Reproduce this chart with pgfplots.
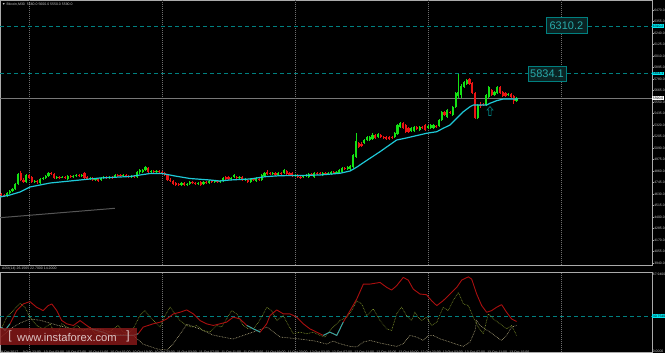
\documentclass[border=0pt]{standalone}
\usepackage{pgfplots}
\pgfplotsset{compat=1.18}
\usepackage{pgfplotstable}
\usepackage{fontspec}
\setmainfont{Liberation Sans}
\definecolor{cgreen}{RGB}{20,225,20}
\definecolor{cred}{RGB}{235,20,20}
\definecolor{cma}{RGB}{30,200,215}
\definecolor{lvl}{RGB}{0,128,128}
\definecolor{axgray}{RGB}{170,170,170}
\definecolor{lblgray}{RGB}{200,200,200}
\definecolor{sepgray}{RGB}{110,110,110}
\definecolor{adxred}{RGB}{170,15,15}
\definecolor{adxteal}{RGB}{32,178,170}
\definecolor{diolive}{RGB}{130,150,45}
\definecolor{diwheat}{RGB}{175,165,125}
\definecolor{cyanlab}{RGB}{0,230,240}
\definecolor{wmred}{RGB}{140,25,25}
\definecolor{wmtext}{RGB}{220,195,195}
\definecolor{boxtxt}{RGB}{40,170,170}
\definecolor{boxfill}{RGB}{10,35,35}
\definecolor{trend}{RGB}{85,85,85}
\definecolor{pline}{RGB}{120,120,120}
\pgfdeclareplotmark{uparrow}{%
\pgfpathmoveto{\pgfpoint{0pt}{4.5pt}}%
\pgfpathlineto{\pgfpoint{3pt}{1pt}}%
\pgfpathlineto{\pgfpoint{1.2pt}{1pt}}%
\pgfpathlineto{\pgfpoint{1.2pt}{-4.5pt}}%
\pgfpathlineto{\pgfpoint{-1.2pt}{-4.5pt}}%
\pgfpathlineto{\pgfpoint{-1.2pt}{1pt}}%
\pgfpathlineto{\pgfpoint{-3pt}{1pt}}%
\pgfpathclose\pgfusepathqstroke}

\pgfplotstableread{
i o c h l
2 4610 4640 4650 4600
3 4640 4660 4670 4630
4 4660 4680 4690 4650
5 4680 4730 4740 4670
6 4730 4830 4840 4720
9 4750 4820 4830 4740
12 4750 4760 4770 4740
14 4740 4780 4790 4730
15 4780 4790 4800 4770
16 4790 4810 4820 4780
17 4810 4840 4850 4800
20 4790 4800 4810 4780
22 4790 4800 4810 4790
24 4780 4810 4820 4770
26 4800 4810 4820 4790
27 4810 4820 4830 4800
29 4810 4820 4830 4800
32 4780 4790 4800 4770
34 4770 4780 4790 4760
36 4770 4790 4800 4760
37 4790 4800 4810 4780
39 4790 4800 4810 4780
41 4800 4820 4830 4790
44 4810 4820 4830 4800
47 4800 4810 4820 4790
49 4800 4850 4860 4790
50 4850 4870 4880 4830
51 4850 4870 4880 4840
52 4870 4900 4910 4860
54 4850 4860 4870 4840
56 4850 4860 4870 4840
65 4720 4740 4750 4710
67 4720 4730 4740 4710
68 4730 4750 4760 4720
71 4730 4740 4750 4720
73 4730 4750 4760 4720
75 4740 4760 4770 4730
77 4750 4760 4770 4740
79 4750 4760 4770 4740
80 4760 4790 4800 4750
83 4780 4790 4800 4770
84 4800 4820 4830 4790
86 4790 4800 4810 4780
88 4770 4780 4790 4760
90 4750 4780 4790 4740
92 4760 4790 4800 4750
94 4770 4820 4830 4760
95 4810 4840 4850 4800
98 4830 4840 4850 4820
100 4820 4840 4850 4810
102 4840 4870 4880 4830
106 4810 4820 4830 4800
109 4800 4810 4820 4790
110 4810 4820 4830 4800
111 4800 4830 4840 4790
113 4800 4840 4850 4790
116 4820 4840 4850 4810
118 4830 4840 4850 4820
119 4830 4850 4860 4820
121 4840 4850 4860 4830
122 4840 4870 4880 4830
123 4850 4890 4900 4840
125 4880 4900 4910 4870
126 4880 4910 4920 4870
127 4900 5020 5030 4890
128 5000 5160 5240 4990
131 5140 5170 5180 5130
132 5170 5200 5210 5160
133 5170 5200 5210 5160
134 5180 5220 5240 5170
136 5200 5230 5240 5190
142 5200 5240 5250 5190
143 5230 5320 5330 5220
144 5300 5340 5350 5290
148 5260 5290 5300 5250
149 5260 5300 5310 5250
151 5270 5300 5310 5260
154 5290 5310 5320 5280
155 5290 5320 5330 5280
156 5290 5320 5330 5280
158 5310 5370 5380 5300
159 5370 5450 5460 5360
161 5400 5470 5480 5390
163 5420 5500 5510 5410
164 5500 5640 5650 5490
165 5610 5650 5834 5590
166 5620 5710 5730 5590
167 5700 5750 5760 5690
168 5730 5770 5780 5720
172 5390 5520 5530 5380
175 5520 5620 5630 5510
176 5600 5700 5710 5590
178 5620 5650 5660 5610
179 5640 5700 5710 5630
183 5620 5630 5640 5610
186 5560 5590 5600 5550
}\greentab

\pgfplotstableread{
i o c h l
0 4630 4620 4640 4610
1 4620 4610 4630 4600
7 4840 4770 4860 4760
8 4770 4750 4790 4740
10 4820 4790 4830 4780
11 4800 4750 4810 4740
13 4760 4750 4770 4730
18 4840 4830 4850 4820
19 4830 4790 4840 4780
21 4800 4790 4810 4780
23 4800 4790 4810 4780
25 4810 4800 4820 4790
28 4820 4810 4830 4800
30 4840 4790 4850 4780
31 4800 4780 4810 4770
33 4790 4770 4800 4760
35 4780 4760 4790 4750
38 4800 4790 4810 4780
40 4800 4790 4810 4780
42 4820 4810 4830 4800
43 4820 4810 4830 4800
45 4820 4810 4830 4800
46 4810 4800 4820 4790
48 4810 4800 4820 4790
53 4890 4850 4900 4840
55 4860 4850 4870 4840
57 4860 4850 4870 4840
58 4850 4840 4860 4830
59 4840 4820 4850 4810
60 4820 4770 4830 4760
61 4770 4760 4790 4750
62 4760 4730 4770 4720
63 4740 4720 4750 4710
64 4730 4720 4740 4710
66 4740 4720 4750 4710
69 4750 4740 4760 4730
70 4740 4730 4750 4720
72 4750 4720 4760 4710
74 4750 4740 4760 4730
76 4760 4750 4770 4740
78 4760 4750 4770 4740
81 4800 4780 4810 4770
82 4800 4780 4810 4770
85 4800 4790 4810 4780
87 4800 4770 4810 4760
89 4770 4750 4780 4740
91 4780 4770 4790 4760
93 4780 4770 4790 4760
96 4850 4830 4870 4820
97 4840 4830 4850 4820
99 4840 4820 4850 4810
101 4840 4830 4850 4820
103 4860 4830 4870 4820
104 4840 4820 4850 4810
105 4840 4810 4850 4800
107 4820 4800 4830 4790
108 4800 4790 4810 4780
112 4830 4820 4840 4810
114 4840 4830 4850 4820
115 4840 4830 4850 4820
117 4840 4830 4850 4820
120 4850 4840 4860 4830
124 4890 4880 4900 4870
129 5140 5100 5150 5090
130 5130 5110 5150 5100
135 5220 5190 5230 5180
137 5220 5200 5230 5190
138 5200 5190 5210 5180
139 5200 5180 5210 5170
140 5200 5180 5210 5170
141 5200 5190 5210 5180
145 5340 5290 5350 5280
146 5320 5250 5330 5240
147 5290 5250 5300 5240
150 5300 5280 5310 5270
152 5300 5290 5310 5280
153 5320 5270 5330 5260
157 5310 5300 5320 5290
160 5450 5420 5460 5410
162 5450 5440 5460 5430
169 5780 5730 5790 5720
170 5740 5640 5750 5630
171 5640 5390 5650 5380
173 5520 5510 5550 5490
174 5530 5520 5540 5510
177 5670 5620 5680 5610
180 5700 5640 5710 5630
181 5650 5610 5660 5600
182 5640 5610 5650 5600
184 5630 5600 5640 5590
185 5610 5560 5620 5530
}\redtab

\begin{document}
\begin{tikzpicture}[x=1pt,y=1pt]
\useasboundingbox (0,0) rectangle (665,353);
\fill[black] (0,0) rectangle (665,353);

\begin{axis}[
  at={(0,88)}, anchor=south west, scale only axis,
  width=652pt, height=265pt,
  xmin=-0.5, xmax=234.9, ymin=3920, ymax=6570,
  clip=false,
  axis line style={draw=axgray, line width=0.6pt},
  xtick=\empty,
  ytick={3940,4055,...,6470},
  ytick pos=right, yticklabel pos=right,
  tick align=outside, major tick length=1.5pt,
  tick style={draw=axgray, line width=0.4pt},
  yticklabel style={font=\fontsize{3.4}{4}\selectfont, text=lblgray, inner sep=0.6pt, anchor=west},
  /pgf/number format/.cd, fixed, fixed zerofill, precision=1, 1000 sep={}, assume math mode=true,
]
% day separators
\addplot[sepgray, line width=0.6pt, dash pattern=on 1pt off 1pt] coordinates {(10,3920) (10,6570)};
\addplot[sepgray, line width=0.6pt, dash pattern=on 1pt off 1pt] coordinates {(58,3920) (58,6570)};
\addplot[sepgray, line width=0.6pt, dash pattern=on 1pt off 1pt] coordinates {(106,3920) (106,6570)};
\addplot[sepgray, line width=0.6pt, dash pattern=on 1pt off 1pt] coordinates {(154,3920) (154,6570)};
\addplot[sepgray, line width=0.6pt, dash pattern=on 1pt off 1pt] coordinates {(202,3920) (202,6570)};
% level lines
\addplot[lvl, line width=0.8pt, dash pattern=on 4pt off 3pt] coordinates {(-0.5,6310.2) (234.9,6310.2)};
\addplot[lvl, line width=0.8pt, dash pattern=on 4pt off 3pt] coordinates {(-0.5,5834.1) (234.9,5834.1)};
\addplot[pline, line width=0.7pt] coordinates {(-0.5,5590) (234.9,5590)};
% trend line
\addplot[trend, line width=1pt] coordinates {(-0.5,4393) (41,4487)};
% candles: wicks
\addplot[draw=none, error bars/.cd, y dir=plus, y explicit, error mark=none,
  error bar style={draw=cgreen, solid, line width=0.8pt}]
  table[x=i, y=l, y error expr=\thisrow{h}-\thisrow{l}] {\greentab};
\addplot[draw=none, error bars/.cd, y dir=plus, y explicit, error mark=none,
  error bar style={draw=cred, solid, line width=0.8pt}]
  table[x=i, y=l, y error expr=\thisrow{h}-\thisrow{l}] {\redtab};
% candles: bodies
\addplot[draw=none, error bars/.cd, y dir=plus, y explicit, error mark=none,
  error bar style={draw=cgreen, solid, line width=2.2pt}]
  table[x=i, y=o, y error expr=\thisrow{c}-\thisrow{o}] {\greentab};
\addplot[draw=none, error bars/.cd, y dir=plus, y explicit, error mark=none,
  error bar style={draw=cred, solid, line width=2.2pt}]
  table[x=i, y=c, y error expr=\thisrow{o}-\thisrow{c}] {\redtab};
% moving average
\addplot[cma, line width=1.2pt, line join=round] coordinates {
(-0.5,4600)(3.1,4620)(6.7,4650)(10.3,4700)(17.6,4740)(28.4,4770)(35.6,4790)(46.4,4805)(53.7,4835)(58,4835)(62.7,4810)(68.1,4785)(75.3,4770)(78.9,4760)(82.5,4770)(89.8,4780)(95.2,4803)(100.6,4813)(107.8,4815)(115,4820)(122.2,4837)(125.9,4860)(128.4,4900)(130.5,4940)(136.7,5053)(142.7,5170)(145.7,5187)(153.5,5237)(157.2,5253)(159.5,5287)(162,5320)(163.8,5370)(166.8,5453)(169.2,5503)(170.4,5520)(175.2,5520)(176.4,5537)(178.8,5563)(181.2,5580)(186.5,5580)};
% arrow
\addplot[lvl, only marks, mark=uparrow, mark options={line width=0.6pt}] coordinates {(176.4,5460)};
% chart labels
\node[draw=lvl, fill=boxfill, text=boxtxt, font=\fontsize{11}{12}\selectfont, inner xsep=3.5pt, minimum height=16pt] at (axis cs:204.0,6315) {6310.2};
\node[draw=lvl, fill=boxfill, text=boxtxt, font=\fontsize{11}{12}\selectfont, inner xsep=2.5pt, minimum height=15pt] at (axis cs:197.0,5835) {5834.1};
% axis highlights
\node[fill=cyanlab, text=black, font=\fontsize{3.4}{4}\selectfont, inner sep=0.7pt, anchor=west] at (axis cs:234.9,6310.2) {6310.2};
\node[fill=cyanlab, text=black, font=\fontsize{3.4}{4}\selectfont, inner sep=0.7pt, anchor=west] at (axis cs:234.9,5834.1) {5834.1};
\node[fill=white, text=black, font=\fontsize{3.4}{4}\selectfont, inner sep=0.7pt, anchor=west] at (axis cs:234.9,5590) {5590.0};
\end{axis}

\begin{axis}[
  at={(0,8.5)}, anchor=south west, scale only axis,
  width=652pt, height=79.5pt,
  xmin=-0.5, xmax=234.9, ymin=0, ymax=68,
  clip=false,
  axis line style={draw=axgray, line width=0.6pt},
  ytick=\empty,
  xtick={3,11,...,187},
  xticklabels={9 Oct 2017, 9 Oct 23:00, 10 Oct 03:00, 10 Oct 07:00, 10 Oct 11:00, 10 Oct 15:00, 10 Oct 19:00, 10 Oct 23:00, 11 Oct 03:00, 11 Oct 07:00, 11 Oct 11:00, 11 Oct 15:00, 11 Oct 19:00, 11 Oct 23:00, 12 Oct 03:00, 12 Oct 07:00, 12 Oct 11:00, 12 Oct 15:00, 12 Oct 19:00, 12 Oct 23:00, 13 Oct 03:00, 13 Oct 07:00, 13 Oct 11:00, 13 Oct 15:00},
  xtick pos=bottom,
  tick align=outside, major tick length=1pt,
  tick style={draw=axgray, line width=0.4pt},
  typeset ticklabels with strut=false,
  xticklabel style={font=\fontsize{3.5}{3.5}\selectfont, text=lblgray, inner sep=0pt, anchor=north, yshift=2.2pt},
]
\addplot[sepgray, line width=0.6pt, dash pattern=on 1pt off 1pt] coordinates {(10,0) (10,68)};
\addplot[sepgray, line width=0.6pt, dash pattern=on 1pt off 1pt] coordinates {(58,0) (58,68)};
\addplot[sepgray, line width=0.6pt, dash pattern=on 1pt off 1pt] coordinates {(106,0) (106,68)};
\addplot[sepgray, line width=0.6pt, dash pattern=on 1pt off 1pt] coordinates {(154,0) (154,68)};
\addplot[sepgray, line width=0.6pt, dash pattern=on 1pt off 1pt] coordinates {(202,0) (202,68)};
\addplot[lvl, line width=0.8pt, dash pattern=on 4pt off 3pt] coordinates {(-0.5,30.754) (234.9,30.754)};
% -DI (wheat, dotted)
\addplot[diwheat, line width=0.6pt, dash pattern=on 0.7pt off 0.9pt] coordinates {
(0,12.8)(3.1,19.6)(6.7,24.7)(10.3,28.1)(13.9,27.2)(20.1,23.0)(27.3,18.7)(35.6,19.6)(41.7,15.3)(47.5,14.5)(51.1,6.8)(56.2,2.6)(59.8,1.7)(62,6.8)(64.5,15.3)(67,23.8)(71.7,19.6)(76.4,14.5)(83.6,11.1)(90.8,17.0)(95.9,21.3)(100.6,12.8)(107.8,11.1)(113.2,9.4)(117.5,6.8)(119.7,9.4)(122.2,7.1)(125.9,4.8)(128.3,4.3)(130.7,8.5)(133.1,9.9)(136.7,7.7)(139.1,6.5)(142.7,4.8)(145.1,7.1)(147.5,14.2)(149.9,12.8)(152.3,9.9)(154.1,14.2)(155.9,14.2)(158.3,11.3)(162,8.5)(164.4,6.5)(166.8,4.8)(169.2,8.5)(171,18.4)(171.6,26.9)(172.8,22.7)(174.6,19.8)(176.4,17.0)(178.8,12.8)(180.6,9.9)(182.4,14.2)(184.2,21.3)(186,22.7)};
% +DI (olive, dotted)
\addplot[diolive, line width=0.6pt, dash pattern=on 0.7pt off 0.9pt] coordinates {
(0,19.8)(1.9,29.8)(4.3,35.4)(6.7,41.7)(8.5,38.3)(10.3,29.8)(12.7,22.7)(15.1,19.8)(17.6,24.1)(18.7,18.4)(20.5,17.0)(21.8,24.1)(23.6,21.3)(25.4,19.8)(27.2,22.7)(29.6,18.4)(32,21.3)(33.8,15.6)(35.6,17.0)(38,15.6)(40.4,19.8)(42.2,22.7)(44,17.0)(45.8,15.6)(47.6,19.8)(50,31.2)(51.8,35.4)(53.7,29.8)(55.5,25.5)(57.3,21.3)(59.1,31.2)(60.9,38.3)(62.7,32.6)(64.5,26.9)(66.9,22.7)(68.7,21.3)(70.5,22.7)(72.9,18.4)(75.3,17.0)(77.7,22.7)(79.5,21.3)(81.3,28.3)(83.1,35.4)(85,32.6)(87.3,22.7)(89.1,19.8)(91,19.8)(92.8,25.5)(94.6,32.6)(95.8,38.3)(97.6,35.4)(99.4,26.9)(101.8,31.2)(103,25.5)(105.4,15.6)(107.8,17.0)(110.2,15.6)(112.6,17.0)(115,14.2)(116.8,12.8)(118.6,18.4)(122.2,26.9)(124.7,29.8)(126.5,35.4)(128.3,43.9)(130.1,41.1)(131.9,31.2)(134.3,36.8)(136.7,26.9)(139.1,19.8)(140.9,18.4)(142.7,32.6)(144.5,38.3)(146.3,31.2)(148.1,26.9)(149.3,34.0)(150.5,29.8)(151.7,26.9)(153.5,29.8)(155.3,22.7)(157.2,25.5)(159.5,38.3)(161.3,35.4)(163.1,43.9)(165,51.0)(166.8,41.1)(168.6,39.7)(170.4,29.8)(172.2,21.3)(174,15.6)(175.8,32.6)(177.6,28.3)(180,24.1)(182.4,19.8)(184.2,22.7)(186,14.2)};
% ADX main line
\addplot[adxred, line width=0.9pt, line join=round] coordinates {
(0,21.3)(1.3,18.4)(3.1,24.1)(5.5,35.4)(7.9,41.1)(10.3,43.1)(12.7,38.3)(15.1,35.4)(16.9,39.7)(18.2,41.1)(20,35.4)(21.8,26.9)(23.6,24.1)(26,22.7)(28.4,26.9)(30.8,22.7)(32.6,19.8)(34.4,18.4)(36.8,17.0)(39.2,14.2)(41.6,14.2)(45.2,14.2)(47.6,14.2)(49.4,15.6)(51.2,21.3)(54.8,24.1)(57.3,25.5)(59.7,28.3)(62.1,32.6)(64.5,34.0)(66.9,36.0)(69.3,32.6)(71.7,26.9)(74.1,24.1)(76.5,22.7)(78.9,24.1)(81.3,25.5)(83.7,29.8)(86.1,28.3)(88.6,22.7)(91,19.8)(93.4,17.0)(95.8,24.1)(97,31.2)(99.4,36.0)(101.8,32.6)(104.2,32.6)(106.6,29.8)(109,24.1)(111.4,19.8)(113.8,17.0)(116.2,14.2)(118.6,17.0)(121.1,14.2)(123.4,25.5)(125.9,35.4)(128.3,45.3)(130.7,58.1)(133.1,58.1)(136.7,59.5)(139.1,55.3)(140.9,53.0)(142.7,56.7)(145.1,63.8)(146.9,61.5)(148.7,53.8)(151.1,49.6)(153.5,49.0)(155.3,43.9)(157.2,39.7)(159.5,43.9)(162,49.6)(164.4,55.3)(166.2,61.5)(168.6,64.3)(169.8,62.3)(171.6,49.6)(173.4,39.7)(175.2,34.0)(177,35.4)(178.8,38.3)(180.6,40.5)(182.4,34.0)(184.2,28.3)(186,26.1)};
\addplot[adxteal, line width=0.9pt] coordinates {(0,21.3)(1.3,18.4)(3.1,24.1)};
\addplot[adxteal, line width=0.9pt] coordinates {(32.6,19.8)(34.4,18.4)(36.8,17.0)(39.2,14.2)(41.6,14.2)(45.2,14.2)(47.6,14.2)(49.4,15.6)};
\addplot[adxteal, line width=0.9pt] coordinates {(88.6,22.7)(91,19.8)(93.4,17.0)};
\addplot[adxteal, line width=0.9pt] coordinates {(116.2,14.2)(118.6,17.0)(121.1,14.2)(123.4,25.5)};
% right labels
\node[text=lblgray, font=\fontsize{3.4}{4}\selectfont, inner sep=0.7pt, anchor=west, yshift=-1.8pt] at (axis cs:234.9,67.94) {67.9400};
\node[fill=cyanlab, text=black, font=\fontsize{3.4}{4}\selectfont, inner sep=0.7pt, anchor=west] at (axis cs:234.9,30.754) {30.7540};
\node[text=lblgray, font=\fontsize{3.4}{4}\selectfont, inner sep=0.7pt, anchor=west, yshift=0.8pt] at (axis cs:234.9,0) {0.0000};
\end{axis}

% titles
\node[anchor=west, inner sep=0pt, text=lblgray, font=\fontsize{3.5}{4}\selectfont] at (2,348.5) {▼ Bitcoin,M30\ \ 5560.0 5600.0 5550.0 5590.0};
\node[anchor=west, inner sep=0pt, text=lblgray, font=\fontsize{3.5}{4}\selectfont] at (2,84.3) {ADX(14) 26.1565 22.7000 14.2000};
% watermark
\fill[wmred, opacity=0.8] (0,8) rectangle (137,25);
\node[text=wmtext, font=\fontsize{11.2}{12}\selectfont, anchor=west, inner sep=0pt] at (17,15.8) {www.instaforex.com};
\node[text=wmtext, font=\fontsize{12}{13}\selectfont, inner sep=0pt] at (10,16.3) {[};
\node[text=wmtext, font=\fontsize{12}{13}\selectfont, inner sep=0pt] at (128,16.3) {]};
\end{tikzpicture}
\end{document}
